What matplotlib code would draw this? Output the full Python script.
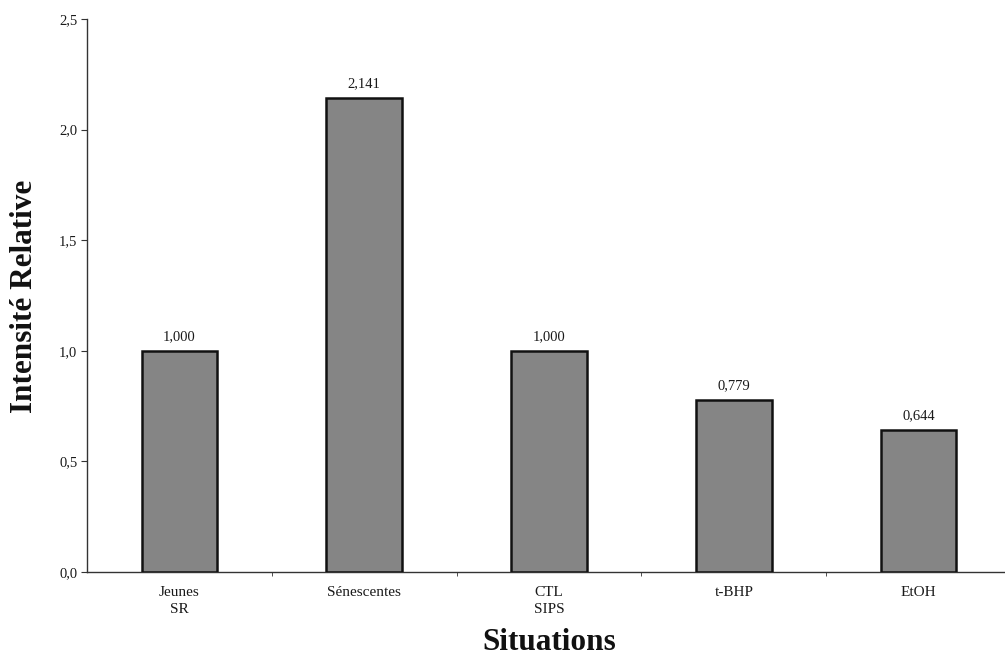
import matplotlib
matplotlib.use("Agg")
import matplotlib.pyplot as plt
from matplotlib.ticker import FixedLocator, FuncFormatter

categories = ["Jeunes\nSR", "Sénescentes", "CTL\nSIPS", "t-BHP", "EtOH"]
values = [1.000, 2.141, 1.000, 0.779, 0.644]
yticks = [0.0, 0.5, 1.0, 1.5, 2.0, 2.5]

plt.rcParams['font.family'] = ['Liberation Serif', 'DejaVu Serif']

fig = plt.figure(figsize=(10.05, 6.56), dpi=100)
fig.patch.set_facecolor('white')
ax = fig.add_axes([87/1005, (656-572)/656, 924/1005, 553/656])

x = list(range(len(categories)))
ax.bar(x, values, width=0.41, color='#858585', edgecolor='#111111', linewidth=1.8, zorder=3)

for xi, v in zip(x, values):
    ax.text(xi, v + 0.035, f"{v:.3f}".replace('.', ','), ha='center', va='bottom', fontsize=10.5, color='#1a1a1a')

ax.set_xlim(-0.5, len(categories) - 0.5)
ax.set_ylim(0, 2.5)
ax.set_yticks(yticks)
ax.yaxis.set_major_formatter(FuncFormatter(lambda v, p: f"{v:.1f}".replace('.', ',')))
ax.set_xticks(x)
ax.set_xticklabels(categories, fontsize=11, linespacing=1.4, color='#1a1a1a')
ax.xaxis.set_minor_locator(FixedLocator([i + 0.5 for i in x[:-1]]))
ax.tick_params(axis='x', which='major', length=0, pad=10)
ax.tick_params(axis='x', which='minor', length=3, direction='out', color='#333333')
ax.tick_params(axis='y', length=4, direction='out', labelsize=10.5, pad=3, color='#333333', labelcolor='#1a1a1a')

for s in ['top', 'right']:
    ax.spines[s].set_visible(False)
ax.spines['left'].set_color('#333333')
ax.spines['bottom'].set_color('#333333')
ax.spines['left'].set_linewidth(1.0)
ax.spines['bottom'].set_linewidth(1.0)

ax.set_ylabel("Intensité Relative", fontsize=22.5, fontweight='bold', color='#111111')
ax.yaxis.set_label_coords(-(87-24)/924, (572-296)/553)
ax.set_xlabel("Situations", fontsize=22.5, fontweight='bold', color='#111111')
ax.xaxis.set_label_coords((549-87)/924, -(642-572)/553)
ax.xaxis.label.set_va('center')
ax.yaxis.label.set_va('center')

fig.savefig("out.png", dpi=100, facecolor='white')
